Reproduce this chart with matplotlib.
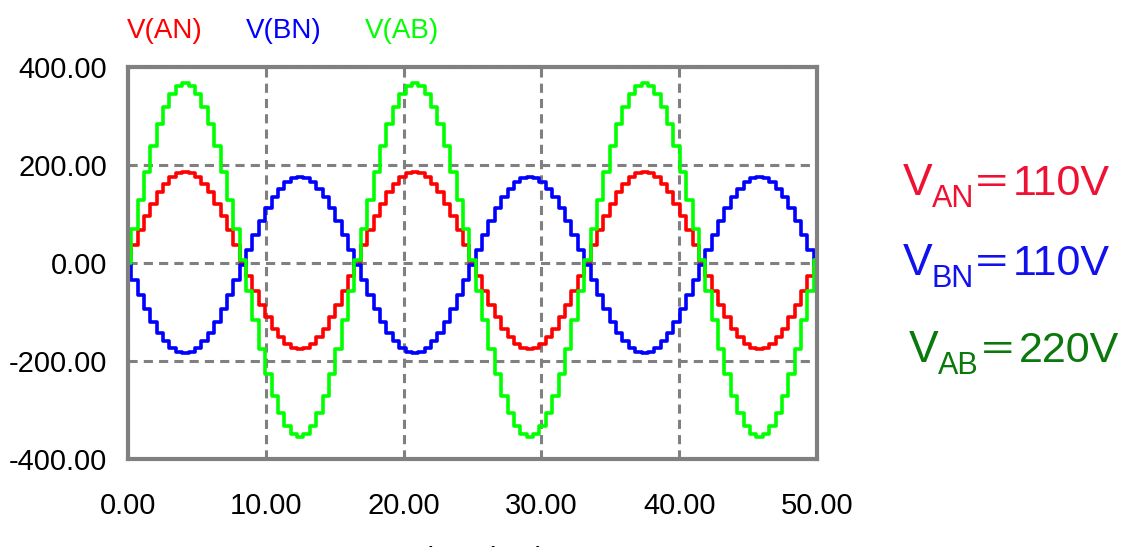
import numpy as np
import matplotlib
matplotlib.use("Agg")
import matplotlib.pyplot as plt

# Sample times (ms) and voltages
t = np.linspace(0, 50, 109)

v_an = [
    8, 36, 67, 96, 121, 144, 162, 175, 183, 186, 183, 175, 162, 144, 121, 96, 67, 36,
    5, -26, -57, -86, -111, -134, -152, -165, -173, -176, -173, -165, -152, -134, -111, -86, -57, -26,
    5, 36, 67, 96, 121, 144, 162, 175, 183, 186, 183, 175, 162, 144, 121, 96, 67, 36,
    5, -26, -57, -86, -111, -134, -152, -165, -173, -176, -173, -165, -152, -134, -111, -86, -57, -26,
    5, 36, 67, 96, 121, 144, 162, 175, 183, 186, 183, 175, 162, 144, 121, 96, 67, 36,
    5, -26, -57, -86, -111, -134, -152, -165, -173, -176, -173, -165, -152, -134, -111, -86, -57, -26,
    5]

v_bn = [
    0, -35, -66, -94, -120, -142, -160, -173, -181, -184, -181, -173, -160, -142, -120, -94, -66, -35,
    -4, 27, 58, 86, 112, 134, 152, 165, 173, 176, 173, 165, 152, 134, 112, 86, 58, 27,
    -4, -35, -66, -94, -120, -142, -160, -173, -181, -184, -181, -173, -160, -142, -120, -94, -66, -35,
    -4, 27, 58, 86, 112, 134, 152, 165, 173, 176, 173, 165, 152, 134, 112, 86, 58, 27,
    -4, -35, -66, -94, -120, -142, -160, -173, -181, -184, -181, -173, -160, -142, -120, -94, -66, -35,
    -4, 27, 58, 86, 112, 134, 152, 165, 173, 176, 173, 165, 152, 134, 112, 86, 58, 27,
    -4]

v_ab = [
    0, 69, 129, 186, 238, 283, 319, 345, 361, 367, 361, 345, 319, 283, 238, 186, 129, 69,
    6, -57, -117, -175, -226, -271, -307, -333, -349, -355, -349, -333, -307, -271, -226, -175, -117, -57,
    6, 69, 129, 186, 238, 283, 319, 345, 361, 367, 361, 345, 319, 283, 238, 186, 129, 69,
    6, -57, -117, -175, -226, -271, -307, -333, -349, -355, -349, -333, -307, -271, -226, -175, -117, -57,
    6, 69, 129, 186, 238, 283, 319, 345, 361, 367, 361, 345, 319, 283, 238, 186, 129, 69,
    6, -57, -117, -175, -226, -271, -307, -333, -349, -355, -349, -333, -307, -271, -226, -175, -117, -57,
    6]

series = [("V(AN)", v_an, "#ff0000"), ("V(BN)", v_bn, "#0000ff"), ("V(AB)", v_ab, "#00ff00")]
x_ticks = [0, 10, 20, 30, 40, 50]
y_ticks = [-400, -200, 0, 200, 400]

W, H = 1126, 547
plt.rcParams["font.family"] = ["Liberation Sans", "DejaVu Sans"]

fig = plt.figure(figsize=(W / 100, H / 100), dpi=100)
ax = fig.add_axes([128 / W, 1 - 459 / H, (817 - 128) / W, (459 - 67) / H])

for name, vals, col in series:
    ax.plot(t, vals, color=col, lw=2.6, drawstyle="steps-mid")

ax.set_xlim(0, 50)
ax.set_ylim(-400, 400)
ax.set_xticks(x_ticks)
ax.set_yticks(y_ticks)
ax.set_xticklabels([f"{v:.2f}" for v in x_ticks])
ax.set_yticklabels([f"{v:.2f}" for v in y_ticks])
ax.tick_params(length=0, labelsize=21, pad=15)
ax.tick_params(axis="x", pad=24)
ax.grid(True, color="#808080", lw=2.2, linestyle=(0, (3.0, 2.0)))
for sp in ax.spines.values():
    sp.set_color("#808080")
    sp.set_linewidth(3)

# legend labels across the top
for (name, vals, col), xp in zip(series, [127, 246, 365]):
    fig.text(xp / W, 1 - 31 / H, name, color=col, fontsize=20, ha="left", va="center")

# x label, mostly cut off at the bottom edge as in the source
fig.text(410 / W, 1 - 569 / H, "Time (ms)", fontsize=22, ha="left", va="baseline")

# annotations on the right
notes = [("V", "AN", "110V", "#ee1133", 903, 195),
         ("V", "BN", "110V", "#1111ee", 903, 275),
         ("V", "AB", "220V", "#0a780a", 909, 362)]
for big, sub, val, col, xp, yb in notes:
    fig.text(xp / W, 1 - yb / H, big, color=col, fontsize=32, ha="left", va="baseline")
    fig.text((xp + 29) / W, 1 - (yb + 12) / H, sub, color=col, fontsize=22,
             ha="left", va="baseline")
    fig.text((xp + 70) / W, 1 - yb / H, "\uff1d", color=col, fontsize=27, ha="left", va="baseline",
             family=["Noto Sans CJK JP", "DejaVu Sans"])
    fig.text((xp + 110) / W, 1 - yb / H, val, color=col, fontsize=31, ha="left", va="baseline")

fig.savefig("out.png", dpi=100)
